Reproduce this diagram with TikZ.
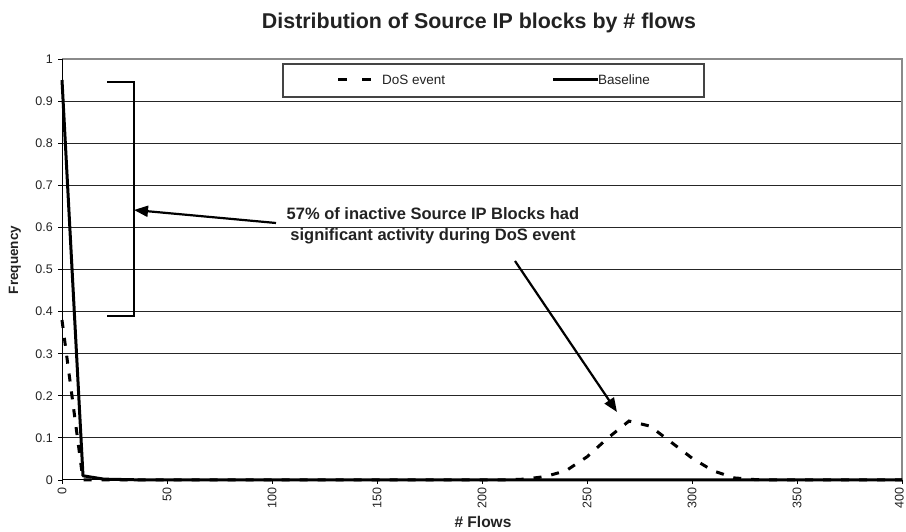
\documentclass[tikz,border=0pt]{standalone}
\usepackage{fontspec}
\setmainfont{Liberation Sans}
\usetikzlibrary{arrows.meta}
\definecolor{txtgray}{HTML}{222222}
\definecolor{framegray}{HTML}{8A8A8A}
\definecolor{boxgray}{HTML}{444444}

\begin{document}
\begin{tikzpicture}[x=1pt,y=1pt,
    ticklabel/.style={font=\fontsize{12.5}{14}\selectfont,text=txtgray,inner sep=0pt},
    legendlabel/.style={font=\fontsize{13.5}{15}\selectfont,text=txtgray,anchor=west,inner sep=0pt},
    gridline/.style={line width=0.8pt,black!85},
    baseline/.style={line width=3pt,black,line join=round},
    dosline/.style={line width=3pt,black,dash pattern=on 8pt off 10pt},
    callout/.style={line width=2.2pt,-{Triangle[length=14pt,width=11pt]}},
    bracket/.style={line width=2.6pt}]
  \useasboundingbox (0,0) rectangle (906,532);

  % title and axis labels
  \node[font=\bfseries\fontsize{21.4}{24}\selectfont,text=txtgray] (title)
    at (479,509) {Distribution of Source IP blocks by \# flows};
  \node[font=\bfseries\fontsize{13.5}{16}\selectfont,text=txtgray,rotate=90] (ylabel)
    at (15,272) {Frequency};
  \node[font=\bfseries\fontsize{15.5}{18}\selectfont,text=txtgray,inner sep=1pt] (xlabel)
    at (483,10) {\# Flows};

  % plot area, data units
  \begin{scope}[shift={(62,52)},x=2.1pt,y=421pt]
    \foreach \k in {1,...,9}
      \draw[gridline] (0,\k/10) -- (400,\k/10);
    \draw[line width=1.8pt,framegray] (0,1) -- (400,1) -- (400,0);
    \draw[line width=1pt] (0,1) -- (0,0) -- (400,0);
    \foreach \k in {0,...,10}{
      \draw[line width=0.8pt] (0,\k/10) -- ++(-4pt,0);
      \node[ticklabel,anchor=east] at ([xshift=-9pt]0,\k/10)
        {\ifnum\k=0 0\else\ifnum\k=10 1\else 0.\k\fi\fi};
    }
    \foreach \v in {0,50,...,350}{
      \draw[line width=0.8pt] (\v,0) -- ++(0,-4pt);
      \node[ticklabel,rotate=90,anchor=east] at ([yshift=-7pt]\v,0) {\v};
    }
    \draw[line width=0.8pt] (400,0) -- ++(0,-4pt);
    \node[ticklabel,rotate=90,anchor=south east] at ([yshift=-7pt,xshift=2pt]400,0) {400};
    % data series
    \draw[dosline] plot coordinates {(0,0.38) (10,0) (210,0) (220,0.002)
      (230,0.008) (240,0.022) (250,0.055) (260,0.1) (270,0.14) (280,0.128)
      (290,0.09) (300,0.052) (310,0.022) (320,0.005) (330,0.001) (340,0)
      (400,0)};
    \draw[baseline] plot coordinates {(0,0.95) (10,0.01) (20,0.002)
      (30,0.001) (40,0) (400,0)};
  \end{scope}

  % legend
  \draw[line width=1.2pt,boxgray,fill=white] (283,435) rectangle (704,468);
  \draw[dosline,dash pattern=on 9pt off 15pt] (338,452) -- (371,452);
  \node[legendlabel] (legdos) at (382,452) {DoS event};
  \draw[baseline] (553,452) -- (598,452);
  \node[legendlabel] (legbase) at (598,452) {Baseline};

  % annotation
  \draw[bracket] (107,450) -| (134,216) -- (107,216);
  \coordinate (brk) at (134,322);
  \coordinate (peak) at (617,120);
  \node[font=\bfseries\fontsize{16.5}{21}\selectfont,text=txtgray,align=center] (note)
    at (433,306) {57\% of inactive Source IP Blocks had\\significant activity during DoS event};
  \coordinate (from1) at (276,309);
  \coordinate (from2) at (515,271);
  \draw[callout] (from1) -- (brk);
  \draw[callout] (from2) -- (peak);
\end{tikzpicture}
\end{document}
